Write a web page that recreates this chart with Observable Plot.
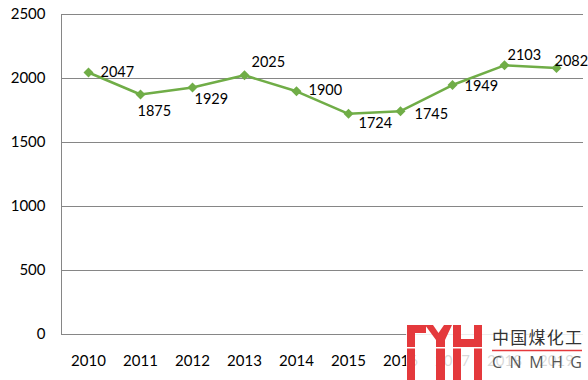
<!DOCTYPE html>
<html>
<head>
<meta charset="utf-8">
<script src="https://cdn.jsdelivr.net/npm/d3@7"></script>
<script src="https://cdn.jsdelivr.net/npm/@observablehq/plot@0.6"></script>
<style>
  body { margin: 0; background: #fff; }
  #wrap { position: relative; width: 588px; height: 380px; }
  #logo { position: absolute; left: 0; top: 0; pointer-events: none; }
</style>
</head>
<body>
<div id="wrap"></div>
<script>
// Data
const years = [2010, 2011, 2012, 2013, 2014, 2015, 2016, 2017, 2018, 2019];
const values = [2047, 1875, 1929, 2025, 1900, 1724, 1745, 1949, 2103, 2082];
const yTicks = [0, 500, 1000, 1500, 2000, 2500];

// label placement (styling): offsets of each data label from its point
const labelOffsets = [[12,0],[-3,17],[2,12],[7,-13],[12,-1],[10,10],[14,3],[12,1],[3,-10],[-2,-7]];

const data = years.map((y, i) => ({year: y, value: values[i]}));
const green = "#70AD47";

const chart = Plot.plot({
  width: 588,
  height: 380,
  marginLeft: 61,
  marginRight: 5,
  marginTop: 14,
  marginBottom: 46,
  style: {fontFamily: "Lato, 'Open Sans', sans-serif", fontSize: "15px", color: "#000", background: "#fff"},
  x: {type: "point", domain: years, padding: 0.5, label: null},
  y: {domain: [0, 2500], label: null},
  marks: [
    Plot.ruleY(yTicks, {stroke: "#868686", strokeWidth: 1}),
    Plot.frame({anchor: "left", stroke: "#868686"}),
    Plot.axisY({ticks: yTicks, tickSize: 0, tickPadding: 16, tickFormat: d => String(d), fill: "#000", label: null}),
    Plot.axisX({tickSize: 0, tickPadding: 21, tickFormat: d => String(d), fill: "#000", label: null}),
    Plot.line(data, {x: "year", y: "value", stroke: green, strokeWidth: 2.5}),
    Plot.dot(data, {x: "year", y: "value", symbol: "diamond2", r: 4.5, fill: green, stroke: "none"}),
    ...data.map((d, i) => Plot.text([d], {
      x: "year", y: "value", text: d => String(d.value),
      dx: labelOffsets[i][0], dy: labelOffsets[i][1],
      textAnchor: "start", fill: "#000", fontSize: 14.5
    }))
  ]
});
document.getElementById("wrap").appendChild(chart);

// Watermark logo overlay
const ns = "http://www.w3.org/2000/svg";
const logo = document.createElementNS(ns, "svg");
logo.setAttribute("id", "logo");
logo.setAttribute("width", 588);
logo.setAttribute("height", 380);
const red = "#E4393C";
logo.innerHTML = `
  <rect x="406" y="320" width="182" height="60" fill="#fff" fill-opacity="0.85"/>
  <rect x="407" y="325" width="8" height="55" fill="${red}"/>
  <rect x="407" y="325" width="19" height="8" fill="${red}"/>
  <polygon points="425,325 433,325 438.5,333 444,325 452,325 445,340 445,380 436,380 436,340" fill="${red}"/>
  <rect x="453" y="325" width="8" height="55" fill="${red}"/>
  <rect x="474" y="325" width="8" height="55" fill="${red}"/>
  <rect x="453" y="339" width="29" height="8" fill="${red}"/>
  <rect x="406" y="347" width="78" height="1.5" fill="#fff"/>
  <text x="492" y="344" font-family="'Noto Sans CJK SC', sans-serif" font-size="17" fill="#333" textLength="90" lengthAdjust="spacing">中国煤化工</text>
  <line x1="492" x2="582" y1="350.5" y2="350.5" stroke="${red}" stroke-width="1.5"/>
  <text x="492" y="367.5" font-family="'Open Sans', sans-serif" font-size="16" fill="#555" textLength="90" lengthAdjust="spacing">CNMHG</text>
`;
document.getElementById("wrap").appendChild(logo);
</script>
</body>
</html>
